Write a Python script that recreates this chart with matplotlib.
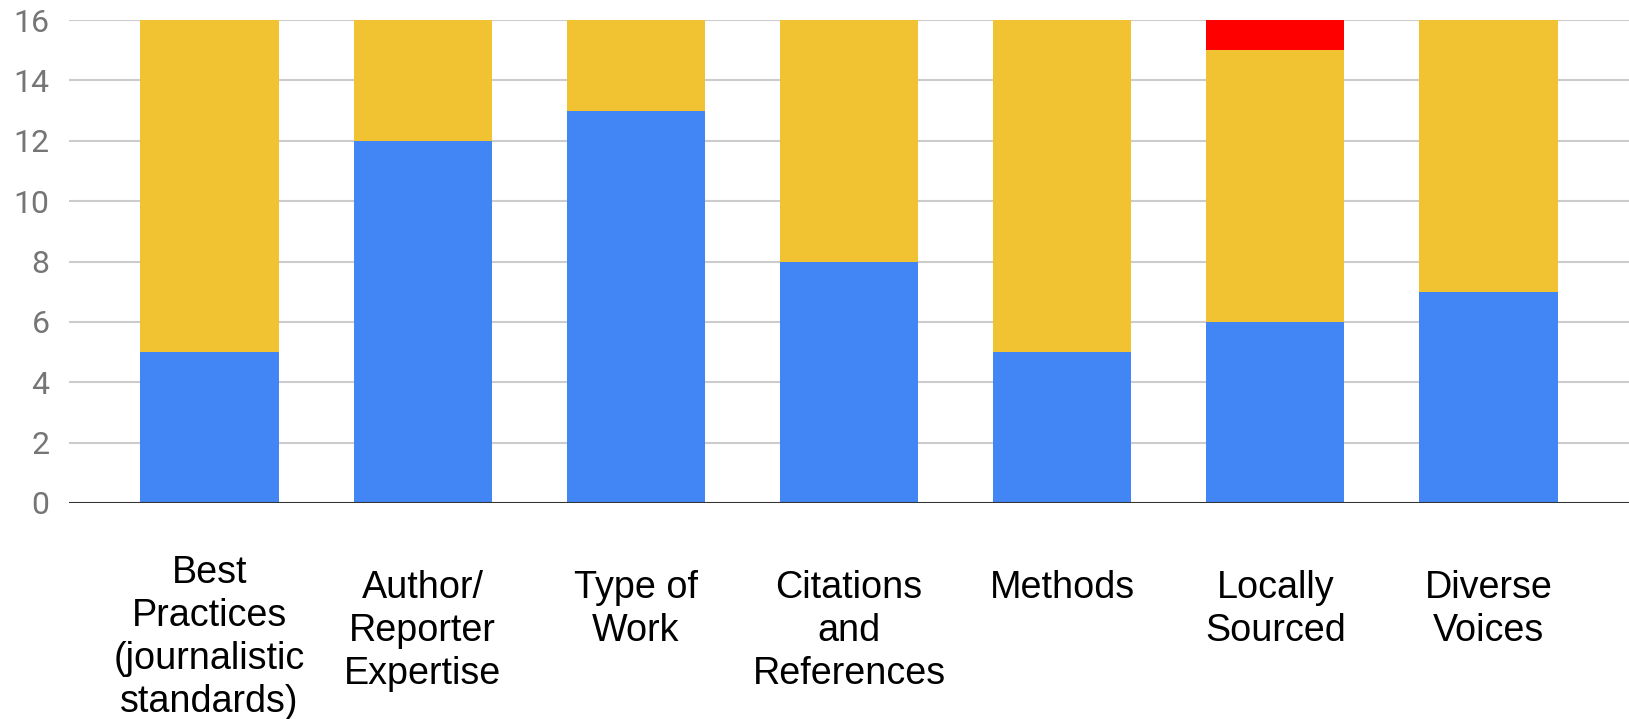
import matplotlib.pyplot as plt
import matplotlib.transforms as mtransforms
import numpy as np

categories = ["Best\nPractices\n(journalistic\nstandards)", "Author/\nReporter\nExpertise",
              "Type of\nWork", "Citations\nand\nReferences", "Methods",
              "Locally\nSourced", "Diverse\nVoices"]
blue_vals = [5, 12, 13, 8, 5, 6, 7]
yellow_vals = [11, 4, 3, 8, 11, 9, 9]
red_vals = [0, 0, 0, 0, 0, 1, 0]

fig = plt.figure(figsize=(16.29, 7.19), dpi=100)
ax = fig.add_axes([69 / 1629, 1 - 503 / 719, 1 - 69 / 1629, (503 - 20) / 719])

x = np.arange(len(categories))
w = 0.65
blue = np.array(blue_vals)
yellow = np.array(yellow_vals)
ax.bar(x, blue, w, color="#4285F4", zorder=3)
ax.bar(x, yellow, w, bottom=blue, color="#F1C232", zorder=3)
ax.bar(x, red_vals, w, bottom=blue + yellow, color="#FF0000", zorder=3)

ax.set_xlim(-0.66, len(categories) - 1 + 0.66)
ax.set_ylim(0, 16)
ax.set_yticks(range(0, 17, 2))
ax.grid(axis="y", color="#cccccc", linewidth=1.5, zorder=0)
ax.axhline(0, color="#333333", linewidth=2.2, zorder=4)
for s in ax.spines.values():
    s.set_visible(False)
ax.tick_params(axis="y", length=0, pad=14, labelsize=23, labelcolor="#757575")
for t in ax.get_yticklabels():
    t.set_fontfamily("Roboto")
ax.set_xticks([])

# category labels, top aligned like the Google chart (4-line one pushed up)
trans = mtransforms.blended_transform_factory(ax.transData, fig.transFigure)
for i, lab in enumerate(categories):
    ytop = 555 if i == 0 else 570
    ax.text(i, 1 - ytop / 719, lab, transform=trans, ha="center", va="top",
            fontsize=27.2, family="Liberation Sans", color="black",
            linespacing=1.25, multialignment="center")

fig.savefig("out.png", dpi=100)
